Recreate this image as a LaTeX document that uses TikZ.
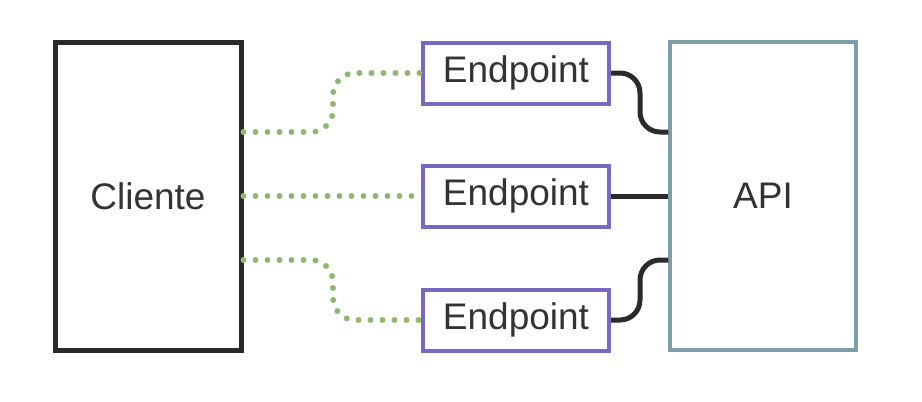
\documentclass[tikz,border=0pt]{standalone}
\usepackage{fontspec}
\setmainfont{Liberation Sans}
\begin{document}
\begin{tikzpicture}[x=0.5pt,y=-0.5pt,
  box/.style={draw, fill=white, minimum width=93pt, inner sep=0pt, font=\fontsize{18.5}{22}\selectfont, text=txt},
  big/.style={box, minimum height=154pt},
  ep/.style={box, draw=epc, line width=2pt, minimum height=30.5pt},
  green/.style={draw=grn, line width=3pt, line cap=round, dash pattern=on 0pt off 6pt, rounded corners=11pt},
  dark/.style={draw=drk, line width=2.5pt, rounded corners=10pt}]
\definecolor{txt}{HTML}{333333}
\definecolor{epc}{HTML}{7A68C0}
\definecolor{apic}{HTML}{7C9EA8}
\definecolor{grn}{HTML}{8DB86E}
\definecolor{drk}{HTML}{2A2A2A}
\useasboundingbox (0,0) rectangle (922,402);
\node[big, draw=drk, line width=2.5pt] (cli) at (148,196) {Cliente};
\node[big, draw=apic, line width=1.6pt] (api) at (763,196) {API};
\node[ep] (e1) at (516,73) {Endpoint};
\node[ep] (e2) at (516,196) {Endpoint};
\node[ep] (e3) at (516,320) {Endpoint};
\coordinate (c1) at ([yshift=32pt]cli.east);
\coordinate (c3) at ([yshift=-32pt]cli.east);
\coordinate (a1) at ([yshift=32pt]api.west);
\coordinate (a3) at ([yshift=-32pt]api.west);
\draw[green] (c1) -- (333,132) -- (333,73) -- (e1.west);
\draw[green] (cli.east) -- (e2.west);
\draw[green] (c3) -- (333,260) -- (333,320) -- (e3.west);
\draw[dark] (e1.east) -- (640,73) -- (640,132) -- (a1);
\draw[dark] (e2.east) -- (api.west);
\draw[dark] (e3.east) -- (640,320) -- (640,260) -- (a3);
\end{tikzpicture}
\end{document}
